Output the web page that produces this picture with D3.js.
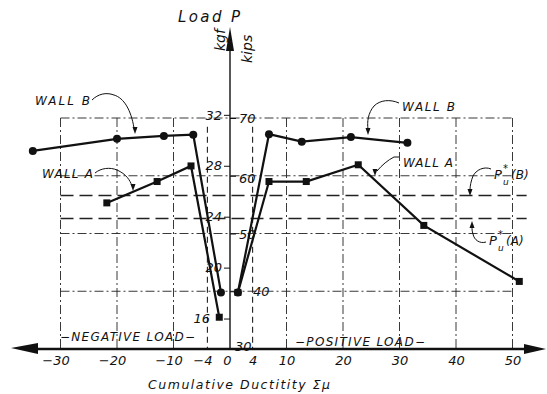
<!DOCTYPE html>
<html><head><meta charset="utf-8">
<script src="https://cdn.jsdelivr.net/npm/d3@7"></script>
<style>
body{margin:0;background:#fff}
text{font-family:"DejaVu Sans",sans-serif;font-style:italic;fill:#111}
</style>
</head><body><svg id="c" width="547" height="394"></svg>
<script>
// ---- data ----
const wallBNegX = [-34.9, -20.0, -11.7, -6.5, -1.6];
const wallBNegP = [64.3, 66.4, 66.9, 67.1, 39.8];
const wallANegX = [-21.8, -12.9, -6.9, -1.9];
const wallANegP = [55.3, 59.0, 61.7, 35.5];
const wallBPosX = [1.4, 6.9, 12.7, 21.4, 31.4];
const wallBPosP = [39.8, 67.2, 65.9, 66.7, 65.7];
const wallAPosX = [1.4, 6.9, 13.5, 22.7, 34.3, 51.2];
const wallAPosP = [39.8, 59.0, 59.0, 61.9, 51.4, 41.7];
const puLevels = [56.6, 52.6];           // Pu*(B), Pu*(A) in kips
const xTicks = [-30, -20, -10, -4, 0, 4, 10, 20, 30, 40, 50];
const kipsTicks = [30, 40, 50, 60, 70];
const kgfTicks = [16, 20, 24, 28, 32];
const gridX = [-30, -20, -10, 10, 20, 30, 40, 50];
const dashX = [-4, 4];
const gridP = [40, 50, 60, 70];
const KIPS_PER_TF = 2.2046;

// ---- scales ----
const svg = d3.select("#c");
const x = d3.scaleLinear().domain([-30, 50]).range([60.5, 512.5]);
const y = d3.scaleLinear().domain([30, 70]).range([349, 118]);
const yT = d3.scaleLinear().domain([30 / KIPS_PER_TF, 70 / KIPS_PER_TF]).range([349, 118]);
const x0 = x(0);

// ---- grid ----
const g = svg.append("g").attr("stroke", "#222").attr("fill", "none");
g.selectAll(".gh").data(gridP).join("line")
  .attr("x1", x(-30)).attr("x2", x(50)).attr("y1", d => y(d)).attr("y2", d => y(d))
  .attr("stroke-width", 0.9).attr("stroke-dasharray", "9,3,2,3");
g.selectAll(".gv").data(gridX).join("line")
  .attr("x1", d => x(d)).attr("x2", d => x(d)).attr("y1", y(70)).attr("y2", y(30))
  .attr("stroke-width", 0.9).attr("stroke-dasharray", "9,3,2,3");
g.selectAll(".gd").data(dashX).join("line")
  .attr("x1", d => x(d)).attr("x2", d => x(d)).attr("y1", y(68.5)).attr("y2", y(30))
  .attr("stroke-width", 1.1).attr("stroke-dasharray", "6,4");
g.selectAll(".pu").data(puLevels).join("line")
  .attr("x1", x(-30)).attr("x2", x(52.5)).attr("y1", d => y(d)).attr("y2", d => y(d))
  .attr("stroke-width", 1.5).attr("stroke-dasharray", "13,6");

// ---- axes ----
svg.append("line").attr("x1", 34).attr("x2", 528).attr("y1", 349).attr("y2", 349)
  .attr("stroke", "#111").attr("stroke-width", 2.4);
svg.append("path").attr("d", "M11,348 L38,343 L38,354 Z").attr("fill", "#111");
svg.append("path").attr("d", "M546,349 L524,344 L524,354 Z").attr("fill", "#111");
svg.append("line").attr("x1", x0).attr("x2", x0).attr("y1", 349).attr("y2", 40)
  .attr("stroke", "#111").attr("stroke-width", 1.4);
svg.append("path").attr("d", `M${x0},27 L${x0 - 4},51 L${x0 + 4},51 Z`).attr("fill", "#111");

const ax = svg.append("g").attr("transform", "translate(0,353)")
  .call(d3.axisBottom(x).tickValues(xTicks).tickSize(0).tickPadding(3)
    .tickFormat(d => d < 0 ? "\u2212" + Math.abs(d) : d));
ax.select(".domain").remove();
ax.selectAll("text").attr("font-size", 13).attr("font-family", "DejaVu Sans")
  .attr("dx", d => d < 0 ? -5 : (d === 0 ? -3 : 0));

const ak = svg.append("g").attr("transform", `translate(${x0},0)`)
  .call(d3.axisRight(y).tickValues(kipsTicks).tickSize(6).tickPadding(3));
ak.select(".domain").remove();
ak.selectAll("line").attr("stroke", "#111");
ak.selectAll("text").attr("font-size", 13).attr("font-family", "DejaVu Sans")
  .attr("dx", d => d === 40 ? 14 : (d === 30 ? -4 : 0))
  .attr("dy", d => d === 30 ? "0.1em" : (d === 60 ? "0.5em" : "0.35em"))
  .attr("fill", "#111");

const at = svg.append("g").attr("transform", `translate(${x0},0)`)
  .call(d3.axisLeft(yT).tickValues(kgfTicks).tickSize(6).tickPadding(2));
at.select(".domain").remove();
at.selectAll("line").attr("stroke", "#111");
at.selectAll("text").attr("font-size", 13).attr("font-family", "DejaVu Sans")
  .attr("dx", d => d === 16 ? -12 : 0).attr("fill", "#111");

// ---- series ----
const line = d3.line().x(d => x(d[0])).y(d => y(d[1]));
const zip = (a, b) => a.map((v, i) => [v, b[i]]);
const series = [
  {pts: zip(wallBNegX, wallBNegP), m: "c"},
  {pts: zip(wallANegX, wallANegP), m: "s"},
  {pts: zip(wallBPosX, wallBPosP), m: "c"},
  {pts: zip(wallAPosX, wallAPosP), m: "s"}
];
series.forEach(s => {
  svg.append("path").attr("d", line(s.pts)).attr("fill", "none")
    .attr("stroke", "#111").attr("stroke-width", 2.2);
  if (s.m === "c") {
    svg.selectAll(null).data(s.pts).join("circle")
      .attr("cx", d => x(d[0])).attr("cy", d => y(d[1])).attr("r", 4).attr("fill", "#111");
  } else {
    svg.selectAll(null).data(s.pts).join("rect")
      .attr("x", d => x(d[0]) - 3.5).attr("y", d => y(d[1]) - 3.5)
      .attr("width", 7).attr("height", 7).attr("fill", "#111");
  }
});

// ---- annotations ----
const lab = (t, xx, yy, fs, len) => {
  const e = svg.append("text").attr("x", xx).attr("y", yy).attr("font-size", fs).text(t);
  if (len) e.attr("textLength", len).attr("lengthAdjust", "spacing");
  return e;
};
lab("Load P", 178, 22, 15, 62);
svg.append("text").attr("transform", "translate(225,51) rotate(-90)").attr("font-size", 14).text("kgf");
svg.append("text").attr("transform", "translate(252,63) rotate(-90)").attr("font-size", 14).text("kips");
lab("WALL B", 35, 105, 12, 55);
lab("WALL A", 42, 178, 12, 51);
lab("WALL B", 402, 111, 12, 53);
lab("WALL A", 403, 167, 12, 50);
lab("\u2212NEGATIVE LOAD\u2212", 60, 341, 12, 135);
lab("\u2212POSITIVE LOAD\u2212", 295, 346, 12, 130);
lab("Cumulative Ductitity \u03A3\u03BC", 148, 389, 12.5, 182);

const pu = (xx, yy, s) => {
  lab("P", xx, yy, 13);
  lab("*", xx + 9, yy - 7, 10);
  lab("u", xx + 9, yy + 6, 9);
  lab("(" + s + ")", xx + 17, yy, 12);
};
pu(494, 179, "B");
pu(489, 245, "A");

const ann = svg.append("g").attr("fill", "none").attr("stroke", "#111").attr("stroke-width", 1);
const leaders = [
  {d: "M92,100 C98,94 106,92 114,95 C124,98 131,110 134,128", tip: [135, 134], dir: "down"},
  {d: "M95,173 C101,168 110,167 117,170 C126,174 130,180 132,186", tip: [133, 191], dir: "down"},
  {d: "M399,103 C390,99 380,100 374,106 C368,113 367,122 368,129", tip: [368, 135], dir: "down"},
  {d: "M394,157 L399,157 M394,157 C388,160 382,165 377,171", tip: [375, 176], dir: "down"},
  {d: "M491,169 C484,166 476,170 473,176 C471,181 470,186 470,190", tip: [470, 196], dir: "down"},
  {d: "M486,242 C480,244 474,240 473,234 C472,231 472,229 472,227", tip: [472, 221], dir: "up"}
];
ann.selectAll("path").data(leaders).join("path").attr("d", d => d.d);
svg.selectAll(".tip").data(leaders).join("path")
  .attr("d", d => d.dir === "down"
    ? `M${d.tip[0]},${d.tip[1]} l-2.5,-7 l5,0 Z`
    : `M${d.tip[0]},${d.tip[1]} l-2.5,7 l5,0 Z`)
  .attr("fill", "#111");
</script>
</body></html>
